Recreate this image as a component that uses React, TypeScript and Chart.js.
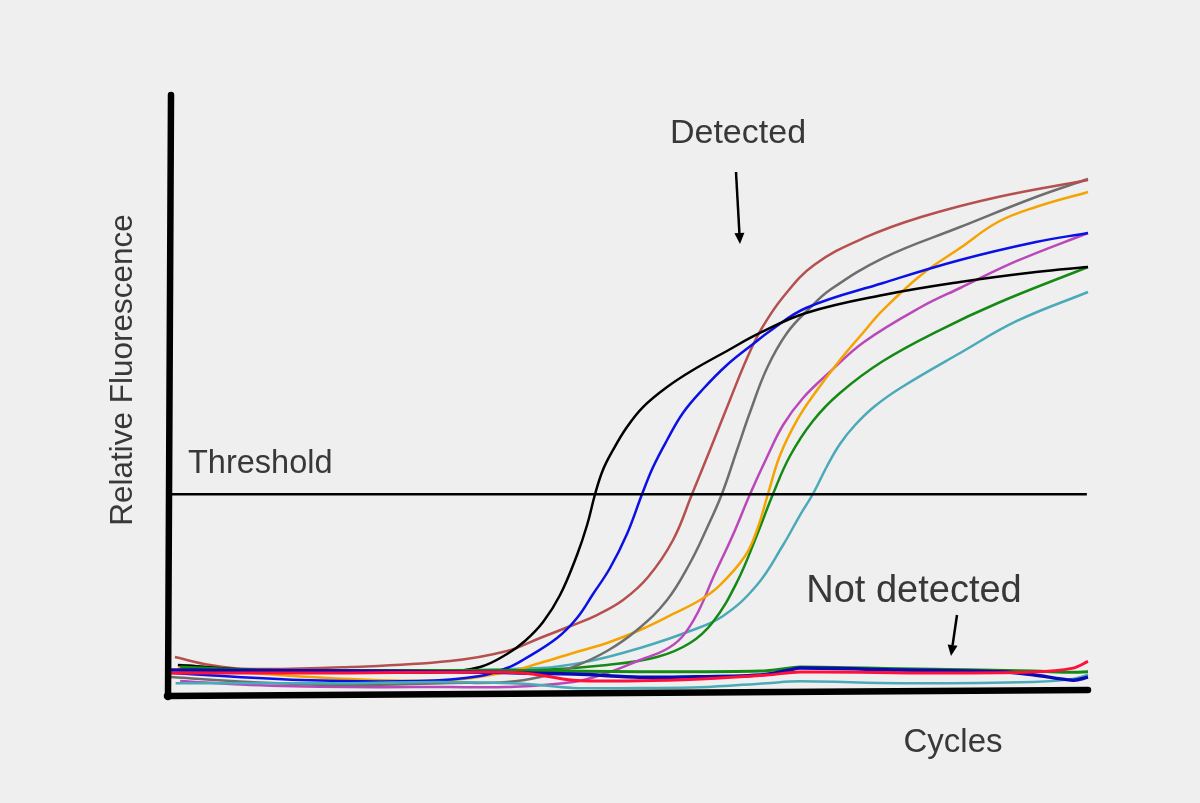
import React, { useEffect, useRef } from "react";
import { Chart, registerables } from "chart.js";

Chart.register(...registerables);

// Axis ranges (cycles / relative fluorescence units)
const X_MAX = 40;
const Y_MAX = 100;
const THRESHOLD = 33.7;

// Detected (amplified) samples: [cycle, RFU]
const blackCurve: [number, number][] = [
  [0.3, 5.3], [3.45, 4.5], [7.8, 4.2], [11.73, 4.15], [13.48, 4.98], [14.66, 7.14], [15.44, 9.3],
  [16.23, 12.46], [16.97, 16.94], [17.71, 23.59], [18.15, 28.57], [18.5, 33.72], [18.84, 37.71],
  [19.28, 41.03], [19.89, 44.85], [20.59, 48.17], [21.64, 51.5], [22.77, 54.32], [24.25, 57.48],
  [25.69, 60.47], [27.7, 63.79], [31.06, 66.78], [34.42, 68.94], [37.73, 70.6], [40, 71.43],
];
const blueCurve: [number, number][] = [
  [0, 4.0], [5.63, 2.82], [10.86, 2.66], [13.48, 3.49], [14.66, 4.82], [15.35, 6.15], [16.84, 9.8],
  [17.71, 13.12], [18.41, 17.11], [19.15, 21.43], [19.89, 27.08], [20.55, 33.72], [21.03, 38.21],
  [21.64, 42.69], [22.33, 47.18], [23.21, 51.16], [24.25, 55.15], [25.39, 58.64], [26.13, 60.8],
  [27.7, 64.62], [31.06, 68.77], [34.42, 72.59], [37.73, 75.58], [40, 77.08],
];
const brownCurve: [number, number][] = [
  [0.17, 6.64], [1.7, 5.32], [3.45, 4.65], [7.8, 4.98], [12.17, 5.98], [14.66, 7.64], [16.1, 9.8],
  [17.54, 11.96], [18.58, 13.62], [19.72, 16.11], [20.81, 19.93], [21.9, 26.08], [22.73, 33.72],
  [23.51, 41.03], [24.38, 49.34], [25.13, 56.31], [25.78, 61.3], [26.7, 66.45], [28.05, 71.76],
  [30.23, 76.25], [32.72, 79.73], [36.07, 83.06], [40, 85.88],
];
const grayCurve: [number, number][] = [
  [0, 3.32], [3.45, 2.49], [7.8, 1.99], [12.17, 2.33], [14.66, 2.49], [16.1, 3.32], [17.54, 4.98],
  [19.02, 7.64], [20.33, 11.13], [21.64, 16.11], [22.64, 22.26], [23.38, 28.07], [24.03, 33.72],
  [24.69, 41.03], [25.26, 47.34], [26.0, 54.65], [26.87, 60.47], [27.87, 64.62], [28.74, 67.61],
  [31.06, 72.92], [34.42, 78.07], [37.73, 83.06], [40, 86.05],
];
const orangeCurve: [number, number][] = [
  [0.3, 4.82], [3.45, 3.99], [7.8, 2.99], [12.17, 2.82], [14.66, 4.15], [16.1, 5.65], [17.54, 7.31],
  [19.02, 8.97], [20.46, 11.13], [21.9, 13.79], [23.08, 16.11], [23.95, 18.6], [25.04, 23.42],
  [25.56, 27.74], [26.04, 33.72], [26.57, 40.2], [27.31, 46.01], [28.09, 50.5], [29.18, 55.98],
  [30.18, 60.47], [31.06, 64.29], [32.72, 70.1], [34.42, 74.58], [36.07, 78.9], [37.73, 81.4],
  [40, 83.89],
];
const magentaCurve: [number, number][] = [
  [0.4, 2.66], [3.45, 1.99], [7.8, 1.66], [12.17, 1.66], [14.66, 1.66], [17.54, 2.49], [19.02, 3.99],
  [20.46, 6.15], [21.55, 7.81], [22.29, 9.97], [22.99, 14.12], [23.64, 19.77], [24.51, 26.91],
  [25.26, 33.72], [26.0, 39.87], [26.7, 45.18], [27.57, 49.67], [28.74, 53.99], [30.23, 58.97],
  [32.72, 64.78], [34.42, 67.94], [36.9, 72.43], [40, 77.08],
];
const greenCurve: [number, number][] = [
  [0.4, 5.32], [3.45, 4.49], [7.8, 4.32], [12.17, 4.32], [16.1, 4.49], [19.02, 5.32], [21.2, 6.64],
  [22.64, 8.97], [23.64, 12.46], [24.69, 19.1], [25.56, 26.91], [26.26, 33.72], [27.0, 40.03],
  [28.0, 45.85], [29.18, 50.5], [31.06, 55.81], [33.54, 60.96], [36.07, 65.45], [40, 71.43],
];
const tealCurve: [number, number][] = [
  [0.3, 4.49], [7.8, 4.32], [16.1, 4.82], [18.28, 5.98], [20.46, 8.14], [22.64, 10.96], [24.08, 13.46],
  [25.56, 18.6], [26.7, 25.25], [27.44, 30.23], [28.0, 33.72], [28.62, 38.37], [29.18, 42.03],
  [29.84, 45.18], [30.71, 48.34], [31.89, 51.5], [34.42, 57.14], [36.9, 62.46], [40, 67.28],
];

// Not detected samples: [cycle, RFU]
const redFlat: [number, number][] = [
  [0, 4.0], [7.8, 4.0], [11.7, 4.1], [15.35, 4.0], [17.55, 2.8], [20.45, 2.7], [23.1, 3.0],
  [26.0, 3.65], [27.44, 4.15], [33.2, 4.0], [37.6, 4.15], [39.35, 4.8], [40, 5.9],
];
const blueFlat: [number, number][] = [
  [0, 4.5], [7.8, 4.3], [11.7, 4.2], [17.55, 3.8], [20.45, 3.3], [21.9, 3.3], [25.7, 3.65],
  [27.0, 4.5], [27.44, 4.8], [31.8, 4.5], [36.2, 4.2], [37.6, 3.7], [39.35, 2.8], [40, 3.3],
];
const greenFlat: [number, number][] = [
  [0.4, 5.0], [3.45, 4.5], [7.8, 4.4], [15.35, 4.4], [20.45, 4.2], [25.7, 4.3], [27.0, 4.8],
  [27.44, 5.0], [31.8, 4.7], [37.6, 4.3], [39.35, 4.1], [40, 4.2],
];
const tealFlat: [number, number][] = [
  [0.2, 2.3], [7.8, 2.3], [11.7, 2.5], [15.35, 2.2], [17.55, 1.5], [20.45, 1.5], [23.1, 1.6],
  [26.0, 2.3], [27.44, 2.6], [31.8, 2.3], [37.6, 2.5], [39.35, 3.0], [40, 3.65],
];

const thresholdLine: [number, number][] = [[0, THRESHOLD], [39.95, THRESHOLD]];

const TEXT_COLOR = "#383838";
const FONT = '"Liberation Sans", Arial, Helvetica, sans-serif';
const BG = "#efefef";

const series: { data: [number, number][]; color: string; width: number; tension: number }[] = [
  { data: thresholdLine, color: "#000000", width: 2.5, tension: 0 },
  { data: redFlat, color: "#ff1038", width: 3, tension: 0.35 },
  { data: blueFlat, color: "#0a0ab4", width: 3.5, tension: 0.35 },
  { data: greenFlat, color: "#148a14", width: 3, tension: 0.35 },
  { data: tealFlat, color: "#4aaab8", width: 2.5, tension: 0.35 },
  { data: blackCurve, color: "#000000", width: 2.5, tension: 0.4 },
  { data: blueCurve, color: "#0a10e6", width: 2.5, tension: 0.4 },
  { data: brownCurve, color: "#b5504f", width: 2.5, tension: 0.4 },
  { data: grayCurve, color: "#6e6e6e", width: 2.5, tension: 0.4 },
  { data: orangeCurve, color: "#f5a300", width: 2.5, tension: 0.4 },
  { data: magentaCurve, color: "#bb48bb", width: 2.5, tension: 0.4 },
  { data: greenCurve, color: "#148a14", width: 2.5, tension: 0.4 },
  { data: tealCurve, color: "#4aaab8", width: 2.5, tension: 0.4 },
];

const decorPlugin = {
  id: "decor",
  beforeDraw(chart: any) {
    const { ctx, width, height } = chart;
    ctx.save();
    ctx.fillStyle = BG;
    ctx.fillRect(0, 0, width, height);
    ctx.restore();
  },
  afterDraw(chart: any) {
    const { ctx, chartArea } = chart;
    const { left, right, top, bottom } = chartArea;
    ctx.save();
    // hand-drawn looking axes
    ctx.strokeStyle = "#000";
    ctx.lineCap = "round";
    ctx.lineWidth = 6.5;
    ctx.beginPath();
    ctx.moveTo(left, top);
    ctx.lineTo(left - 3, bottom);
    ctx.stroke();
    ctx.beginPath();
    ctx.moveTo(left - 4, bottom - 1);
    ctx.lineTo(right, bottom - 7);
    ctx.stroke();

    // arrows
    const arrow = (x1: number, y1: number, x2: number, y2: number) => {
      ctx.lineWidth = 2.5;
      ctx.lineCap = "butt";
      const ang = Math.atan2(y2 - y1, x2 - x1);
      const hl = 11, hw = 5;
      const bx = x2 - hl * Math.cos(ang);
      const by = y2 - hl * Math.sin(ang);
      ctx.beginPath();
      ctx.moveTo(x1, y1);
      ctx.lineTo(bx, by);
      ctx.stroke();
      ctx.beginPath();
      ctx.moveTo(x2, y2);
      ctx.lineTo(bx + hw * Math.sin(ang), by - hw * Math.cos(ang));
      ctx.lineTo(bx - hw * Math.sin(ang), by + hw * Math.cos(ang));
      ctx.closePath();
      ctx.fillStyle = "#000";
      ctx.fill();
    };
    arrow(736, 172, 740, 244);
    arrow(957, 615, 951, 656);

    // labels
    ctx.fillStyle = TEXT_COLOR;
    ctx.textBaseline = "alphabetic";
    ctx.textAlign = "center";
    ctx.font = `34px ${FONT}`;
    ctx.fillText("Detected", 738, 143);
    ctx.font = `38px ${FONT}`;
    ctx.fillText("Not detected", 914, 602);
    ctx.font = `33px ${FONT}`;
    ctx.fillText("Cycles", 953, 752);
    ctx.textAlign = "left";
    ctx.font = `32.5px ${FONT}`;
    ctx.fillText("Threshold", 188, 473);
    ctx.save();
    ctx.translate(132, 370);
    ctx.rotate(-Math.PI / 2);
    ctx.textAlign = "center";
    ctx.font = `31.5px ${FONT}`;
    ctx.fillText("Relative Fluorescence", 0, 0);
    ctx.restore();
    ctx.restore();
  },
};

export default function App() {
  const ref = useRef<HTMLCanvasElement | null>(null);

  useEffect(() => {
    document.body.style.margin = "0";
    document.body.style.background = BG;
    const canvas = ref.current;
    if (!canvas) return;
    const chart = new Chart(canvas, {
      type: "line",
      data: {
        datasets: series.map((s) => ({
          data: s.data.map(([x, y]) => ({ x, y })),
          borderColor: s.color,
          borderWidth: s.width,
          pointRadius: 0,
          fill: false,
          tension: s.tension,
          clip: false as any,
        })),
      },
      options: {
        responsive: false,
        animation: false,
        devicePixelRatio: 1,
        layout: { padding: { left: 171, right: 112, top: 95, bottom: 106 } },
        plugins: { legend: { display: false }, tooltip: { enabled: false } },
        events: [],
        scales: {
          x: { type: "linear", min: 0, max: X_MAX, display: false },
          y: { type: "linear", min: 0, max: Y_MAX, display: false },
        },
      },
      plugins: [decorPlugin],
    });
    return () => chart.destroy();
  }, []);

  return (
    <div style={{ position: "fixed", left: 0, top: 0, width: 1200, height: 803, background: BG }}>
      <canvas ref={ref} width={1200} height={803} style={{ width: 1200, height: 803, display: "block" }} />
    </div>
  );
}
